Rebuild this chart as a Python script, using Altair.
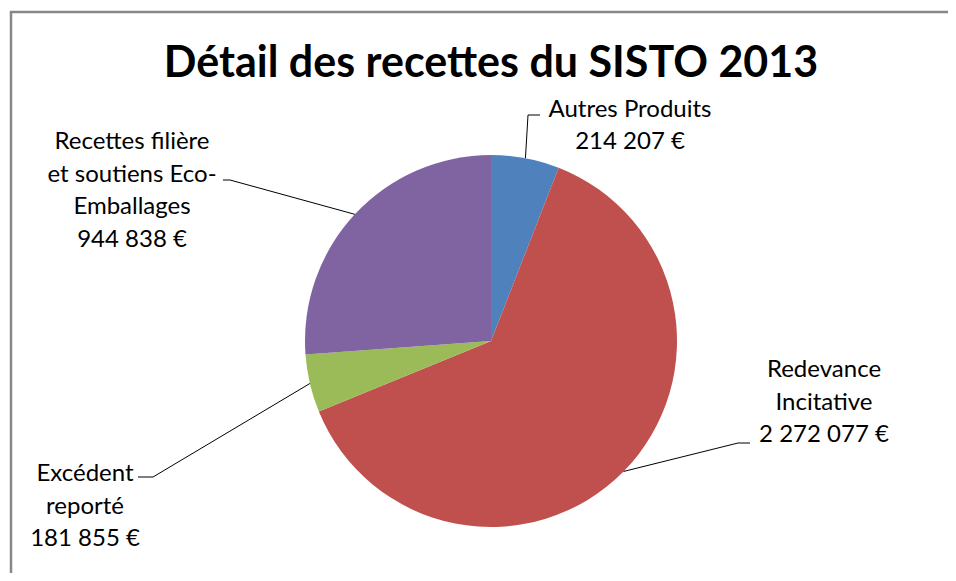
import math
import altair as alt
import pandas as pd

# ---- data ----
categories = ["Autres Produits", "Redevance Incitative", "Excédent reporté",
              "Recettes filière et soutiens Eco-Emballages"]
values = [214207, 2272077, 181855, 944838]
colors = ["#4F81BD", "#C0504D", "#9BBB59", "#8064A2"]
name_lines = [["Autres Produits"], ["Redevance", "Incitative"],
              ["Excédent", "reporté"], ["Recettes filière", "et soutiens Eco-", "Emballages"]]
title_text = "Détail des recettes du SISTO 2013"

# ---- layout (pixels inside the chart) ----
W, H = 940, 565
CX, CY, R = 483, 333, 186
FONT = "Lato"
label_anchor = [(622, 108.5), (816, 369), (77, 473), (124, 141)]   # centre x, first baseline
line_step = 32.5
leader_tail = [[(520, 107), (532, 107)], [(730, 435), (742, 435)],
               [(145, 469), (130, 469)], [(222, 172), (215, 172)]]


def fmt(v):
    return f"{v:,}".replace(",", " ") + " €"


total = sum(values)
pie_df = pd.DataFrame({"cat": categories, "val": values, "ord": list(range(len(values)))})

# leader lines from the slice mid-angle on the rim
line_rows = []
cum = 0
for i, v in enumerate(values):
    a = math.radians((cum + v / 2) / total * 360)
    cum += v
    pts = [(CX + R * math.sin(a), CY - R * math.cos(a))] + leader_tail[i]
    for k, (px, py) in enumerate(pts):
        line_rows.append({"cat": categories[i], "k": k, "px": px, "py": py})
line_df = pd.DataFrame(line_rows)

text_rows = []
for i, v in enumerate(values):
    lx, ly = label_anchor[i]
    lines = name_lines[i] + [fmt(v)]
    for j, t in enumerate(lines):
        text_rows.append({"t": t, "px": lx, "py": ly + j * line_step})
text_df = pd.DataFrame(text_rows)

xs = alt.Scale(domain=[0, W], nice=False, zero=False)
ys = alt.Scale(domain=[H, 0], nice=False, zero=False)

one = alt.Data(values=[{}])
frame_top = alt.Chart(one).mark_rule(color="#878787", strokeWidth=2.5).encode(
    x=alt.value(2), x2=alt.value(W), y=alt.value(4), y2=alt.value(4))
frame_left = alt.Chart(one).mark_rule(color="#878787", strokeWidth=2.5).encode(
    x=alt.value(3), x2=alt.value(3), y=alt.value(3), y2=alt.value(H))

pie = alt.Chart(pie_df).mark_arc(outerRadius=R).encode(
    theta=alt.Theta("val:Q", stack=True),
    order=alt.Order("ord:Q"),
    color=alt.Color("cat:N", scale=alt.Scale(domain=categories, range=colors), legend=None),
    x=alt.value(CX), y=alt.value(CY),
)

leaders = alt.Chart(line_df).mark_line(color="#000000", strokeWidth=1).encode(
    x=alt.X("px:Q", scale=xs, axis=None),
    y=alt.Y("py:Q", scale=ys, axis=None),
    detail="cat:N",
    order="k:Q",
)

labels = alt.Chart(text_df).mark_text(
    font=FONT, fontSize=24, color="#000000", align="center", baseline="alphabetic"
).encode(
    x=alt.X("px:Q", scale=xs, axis=None),
    y=alt.Y("py:Q", scale=ys, axis=None),
    text="t:N",
)

title = alt.Chart(one).mark_text(
    font=FONT, fontSize=43, fontWeight="bold", color="#000000",
    align="center", baseline="alphabetic", text=title_text
).encode(x=alt.value(CX), y=alt.value(69))

chart = alt.layer(frame_top, frame_left, pie, leaders, labels, title).resolve_scale(
    x="shared", y="shared"
).properties(
    width=W, height=H, padding=0, autosize=alt.AutoSizeParams(type="none"),
).configure_view(stroke=None)

chart.save("out.html", embed_options={"renderer": "svg", "actions": False})
